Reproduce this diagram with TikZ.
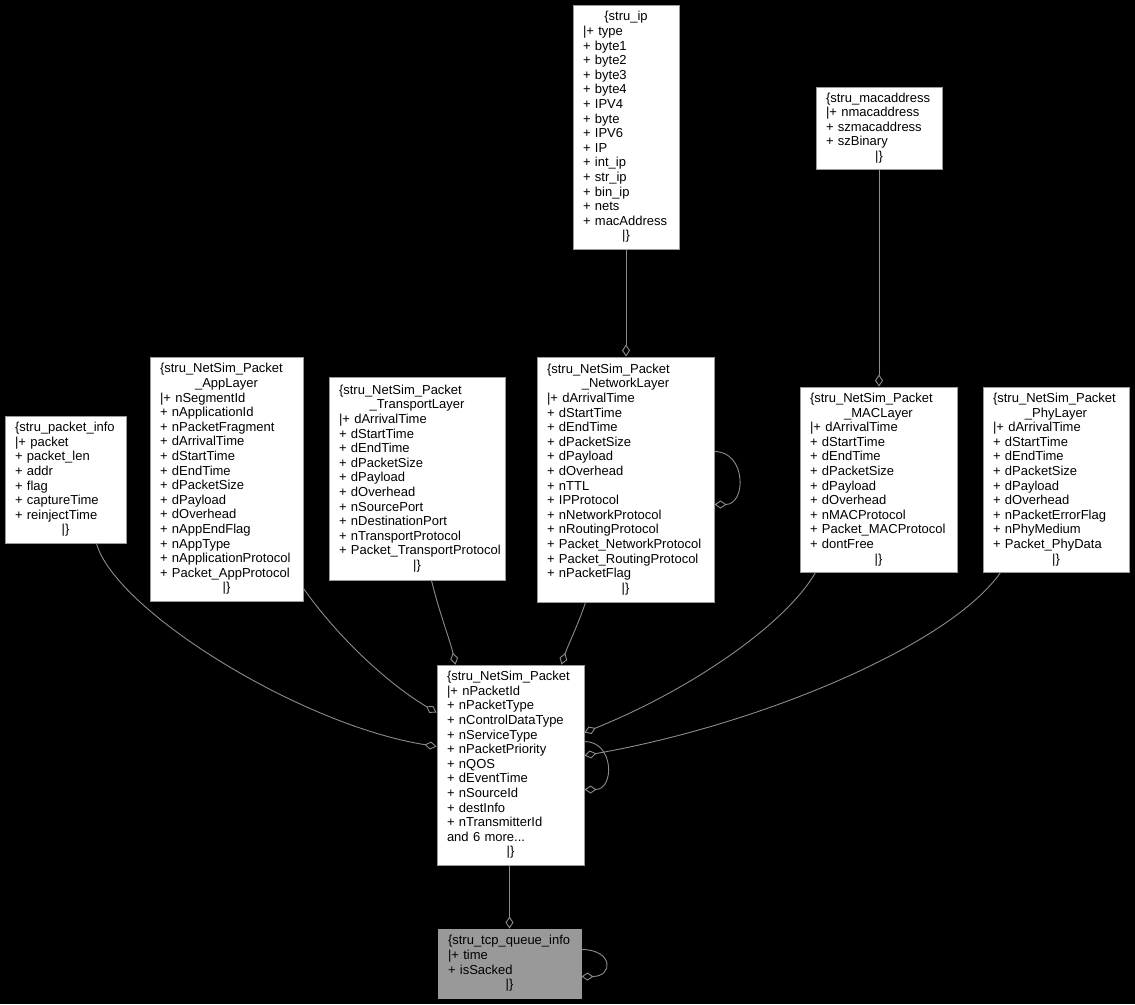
\documentclass[tikz,border=0pt]{standalone}
\usepackage{fontspec}
\setmainfont{Liberation Sans}
\usetikzlibrary{arrows.meta,calc}
\definecolor{edgec}{HTML}{8C8C8C}
\definecolor{boxc}{HTML}{9A9A9A}
\definecolor{tcpfill}{HTML}{999999}
\newcommand\mkc[1]{\makebox[\linewidth]{#1}}
\newcommand\rfont{\fontsize{13}{14.6}\selectfont}
\tikzset{
  rec/.style={draw=boxc, line width=1pt, fill=white, inner xsep=10pt, inner ysep=0pt,
    align=left, font=\rfont, text=black},
  conn/.style={draw=edgec, line width=0.9pt, -{Diamond[open,length=12pt,width=8pt]}},
}
\begin{document}
\begin{tikzpicture}[x=1pt,y=1pt]
\fill[black] (0,0) rectangle (1135,-1004);
\useasboundingbox (0,0) rectangle (1135,-1004);

\node[rec, text width=86pt, minimum height=244pt] (ip) at (626,-127) {\mkc{\{stru\_ip}\\|+ type\\+ byte1\\+ byte2\\+ byte3\\+ byte4\\+ IPV4\\+ byte\\+ IPV6\\+ IP\\+ int\_ip\\+ str\_ip\\+ bin\_ip\\+ nets\\+ macAddress\\\mkc{|\}}};

\node[rec, text width=106pt, minimum height=82pt] (mac) at (879,-128) {\{stru\_macaddress\\|+ nmacaddress\\+ szmacaddress\\+ szBinary\\\mkc{|\}}};

\node[rec, text width=101pt, minimum height=127pt] (pinfo) at (65.5,-479.5) {\{stru\_packet\_info\\|+ packet\\+ packet\_len\\+ addr\\+ flag\\+ captureTime\\+ reinjectTime\\\mkc{|\}}};

\node[rec, text width=133pt, minimum height=244pt] (app) at (226.5,-479) {\{stru\_NetSim\_Packet\\\mkc{\_AppLayer}\\|+ nSegmentId\\+ nApplicationId\\+ nPacketFragment\\+ dArrivalTime\\+ dStartTime\\+ dEndTime\\+ dPacketSize\\+ dPayload\\+ dOverhead\\+ nAppEndFlag\\+ nAppType\\+ nApplicationProtocol\\+ Packet\_AppProtocol\\\mkc{|\}}};

\node[rec, text width=156pt, minimum height=203pt] (trans) at (417,-478.5) {\{stru\_NetSim\_Packet\\\mkc{\_TransportLayer}\\|+ dArrivalTime\\+ dStartTime\\+ dEndTime\\+ dPacketSize\\+ dPayload\\+ dOverhead\\+ nSourcePort\\+ nDestinationPort\\+ nTransportProtocol\\\mbox{+ Packet\_TransportProtocol}\\\mkc{|\}}};

\node[rec, text width=157pt, minimum height=245pt] (net) at (625.5,-479.5) {\{stru\_NetSim\_Packet\\\mkc{\_NetworkLayer}\\|+ dArrivalTime\\+ dStartTime\\+ dEndTime\\+ dPacketSize\\+ dPayload\\+ dOverhead\\+ nTTL\\+ IPProtocol\\+ nNetworkProtocol\\+ nRoutingProtocol\\\mbox{+ Packet\_NetworkProtocol}\\+ Packet\_RoutingProtocol\\+ nPacketFlag\\\mkc{|\}}};

\node[rec, text width=137pt, minimum height=185pt] (macl) at (878.5,-479.5) {\{stru\_NetSim\_Packet\\\mkc{\_MACLayer}\\|+ dArrivalTime\\+ dStartTime\\+ dEndTime\\+ dPacketSize\\+ dPayload\\+ dOverhead\\+ nMACProtocol\\+ Packet\_MACProtocol\\+ dontFree\\\mkc{|\}}};

\node[rec, text width=126pt, minimum height=185pt] (phy) at (1056,-479.5) {\{stru\_NetSim\_Packet\\\mkc{\_PhyLayer}\\|+ dArrivalTime\\+ dStartTime\\+ dEndTime\\+ dPacketSize\\+ dPayload\\+ dOverhead\\+ nPacketErrorFlag\\+ nPhyMedium\\+ Packet\_PhyData\\\mkc{|\}}};

\node[rec, text width=127pt, minimum height=200pt] (pkt) at (510.5,-765) {\{stru\_NetSim\_Packet\\|+ nPacketId\\+ nPacketType\\+ nControlDataType\\+ nServiceType\\+ nPacketPriority\\+ nQOS\\+ dEventTime\\+ nSourceId\\+ destInfo\\+ nTransmitterId\\and 6 more...\\\mkc{|\}}};

\node[rec, fill=tcpfill, text width=123pt, minimum height=69pt] (tcp) at (509.5,-963.5) {\{stru\_tcp\_queue\_info\\|+ time\\+ isSacked\\\mkc{|\}}};

% connectors
\draw[conn] ($(pinfo.south west)+(92,0)$) .. controls (115,-610) and (300,-725) .. ($(pkt.north west)+(0,-82)$);
\draw[conn] ($(app.south east)+(0,13)$) .. controls (340,-640) and (390,-685) .. ($(pkt.north west)+(0,-48)$);
\draw[conn] ($(trans.south west)+(103,0)$) .. controls (440,-615) and (450,-640) .. ($(pkt.north west)+(19,0)$);
\draw[conn] ($(net.south west)+(49,0)$) .. controls (578,-625) and (568,-645) .. ($(pkt.north west)+(125,0)$);
\draw[conn] ($(macl.south west)+(16,0)$) .. controls (785,-625) and (690,-690) .. ($(pkt.north east)+(0,-68)$);
\draw[conn] ($(phy.south west)+(18,0)$) .. controls (950,-645) and (760,-725) .. ($(pkt.north east)+(0,-91)$);
\draw[conn] ($(pkt.north east)+(0,-77)$) .. controls +(30,0) and +(30,0) .. ($(pkt.north east)+(0,-125)$);
\draw[conn] ($(net.north east)+(0,-95)$) .. controls +(32,0) and +(32,0) .. ($(net.north east)+(0,-148)$);
\draw[conn] ($(tcp.north east)+(0,-21)$) .. controls +(32,0) and +(32,0) .. ($(tcp.north east)+(0,-48)$);
\draw[conn] (ip.south) -- (ip.south |- net.north);
\draw[conn] (mac.south) -- (mac.south |- macl.north);
\draw[conn] (tcp.north |- pkt.south) -- (tcp.north);
\end{tikzpicture}
\end{document}
